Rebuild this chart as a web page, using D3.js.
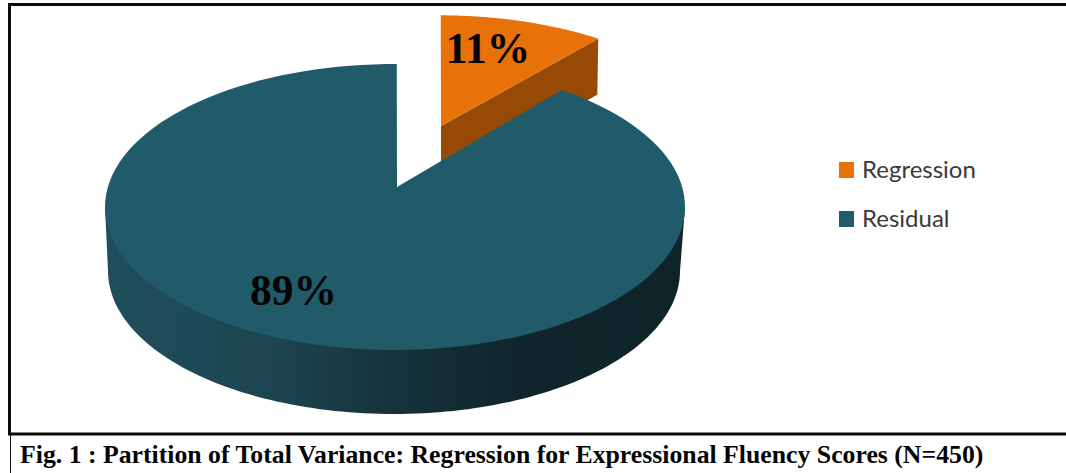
<!DOCTYPE html>
<html><head><meta charset="utf-8">
<script src="https://cdnjs.cloudflare.com/ajax/libs/d3/7.8.5/d3.min.js"></script>
<style>html,body{margin:0;padding:0;background:#fff;overflow:hidden}svg{display:block}</style>
</head><body>
<svg id="c" width="1066" height="473"></svg>
<script>
const categories = ["Regression", "Residual"];
const values = [11, 89];
const percentLabels = ["11%", "89%"];
const caption = "Fig. 1 : Partition of Total Variance: Regression for Expressional Fluency Scores (N=450)";

const W = 1066, H = 473;
const colour = d3.scaleOrdinal().domain(categories).range(["#e8710a", "#215a69"]);
const svg = d3.select("#c");

// frame
const frame = svg.append("g").attr("stroke", "#0a0a0a").attr("fill", "none");
frame.append("line").attr("x1", 8).attr("x2", W).attr("y1", 4.5).attr("y2", 4.5).attr("stroke-width", 3);
frame.append("line").attr("x1", 9.5).attr("x2", 9.5).attr("y1", 3).attr("y2", 435).attr("stroke-width", 3);
frame.append("line").attr("x1", 8).attr("x2", W).attr("y1", 434).attr("y2", 434).attr("stroke-width", 3);
frame.append("line").attr("x1", 10.5).attr("x2", 10.5).attr("y1", 434).attr("y2", H).attr("stroke-width", 1);

// projection of a tilted disc
const P = {cx: 395, cy: 207, rx: 290, ry: 143, t: -0.14, depth: 64, rot: 0.007, apexDx: 2};
const s = Math.sqrt(1 - P.t * P.t);
function rim(a) {
  const x = Math.sin(a + P.rot), y = -Math.cos(a + P.rot);
  const d = 1 + P.t * y;
  return [P.cx + P.rx * x * s / d, P.cy + P.ry * (y + P.t) / d];
}
const apex = [P.cx + P.apexDx, P.cy + P.ry * P.t];
const pie = d3.pie().sort(null).value(d => d)(values);
const sector = pie.map(p => d3.range(0, 121).map(i => p.startAngle + (p.endAngle - p.startAngle) * i / 120));
const line = d3.line();

// exploded slice
const ex = {apex: [441, 126], sx: 0.955, sy: 0.90, depth: 56};
const place = pt => [ex.apex[0] + (pt[0] - apex[0]) * ex.sx, ex.apex[1] + (pt[1] - apex[1]) * ex.sy];
const orangeRim = sector[0].map(a => place(rim(a)));
const last = orangeRim[orangeRim.length - 1];
svg.append("path")
  .attr("d", line([ex.apex, last, [last[0] - 1, last[1] + ex.depth], [ex.apex[0], ex.apex[1] + ex.depth]]) + "Z")
  .attr("fill", "#974a05");
svg.append("path")
  .attr("d", line([ex.apex, ...orangeRim]) + "Z")
  .attr("fill", colour(categories[0]));

// main slice wall
const defs = svg.append("defs");
const grad = defs.append("linearGradient").attr("id", "wall").attr("gradientUnits", "userSpaceOnUse")
  .attr("x1", P.cx - P.rx).attr("x2", P.cx + P.rx).attr("y1", 0).attr("y2", 0);
[[0, "#204e5c"], [0.3, "#1d4450"], [0.5, "#16323b"], [0.7, "#10262c"], [1, "#0f2429"]]
  .forEach(([o, c]) => grad.append("stop").attr("offset", o).attr("stop-color", c));
const bottomRx = P.rx - 4, bottomCx = P.cx - 1;
const lower = d3.range(0, 121).map(i => {
  const q = Math.PI * i / 120;
  return [bottomCx + bottomRx * Math.cos(q), P.cy + P.depth + P.ry * Math.sin(q)];
});
svg.append("path")
  .attr("d", line([[P.cx + P.rx, P.cy], ...lower, [P.cx - P.rx, P.cy]]) + "Z")
  .attr("fill", "url(#wall)");

// main slice top
svg.append("path")
  .attr("d", line([apex, ...sector[1].map(rim)]) + "Z")
  .attr("fill", colour(categories[1]));

// percent labels
const labelPos = [[488, 63], [293.5, 305]];
svg.selectAll("text.pct").data(percentLabels).join("text")
  .attr("class", "pct")
  .attr("x", (d, i) => labelPos[i][0]).attr("y", (d, i) => labelPos[i][1])
  .attr("text-anchor", "middle")
  .attr("font-family", "Liberation Serif").attr("font-weight", "bold")
  .attr("font-size", 43.5).attr("fill", "#050505")
  .text(d => d);

// legend
const legendY = d3.scalePoint().domain(categories).range([170, 219]);
const lg = svg.selectAll("g.lg").data(categories).join("g").attr("class", "lg")
  .attr("transform", d => `translate(839,${legendY(d)})`);
lg.append("rect").attr("x", 0).attr("y", -8).attr("width", 15).attr("height", 16).attr("fill", d => colour(d));
lg.append("text").attr("x", 23).attr("y", 7.5)
  .attr("font-family", "Lato").attr("font-size", 24).attr("fill", "#3a3a3a")
  .text(d => d);

// caption
svg.append("text").attr("x", 20).attr("y", 463)
  .attr("font-family", "Liberation Serif").attr("font-weight", "bold")
  .attr("font-size", 25.75).attr("fill", "#050505")
  .text(caption);
</script>
</body></html>
